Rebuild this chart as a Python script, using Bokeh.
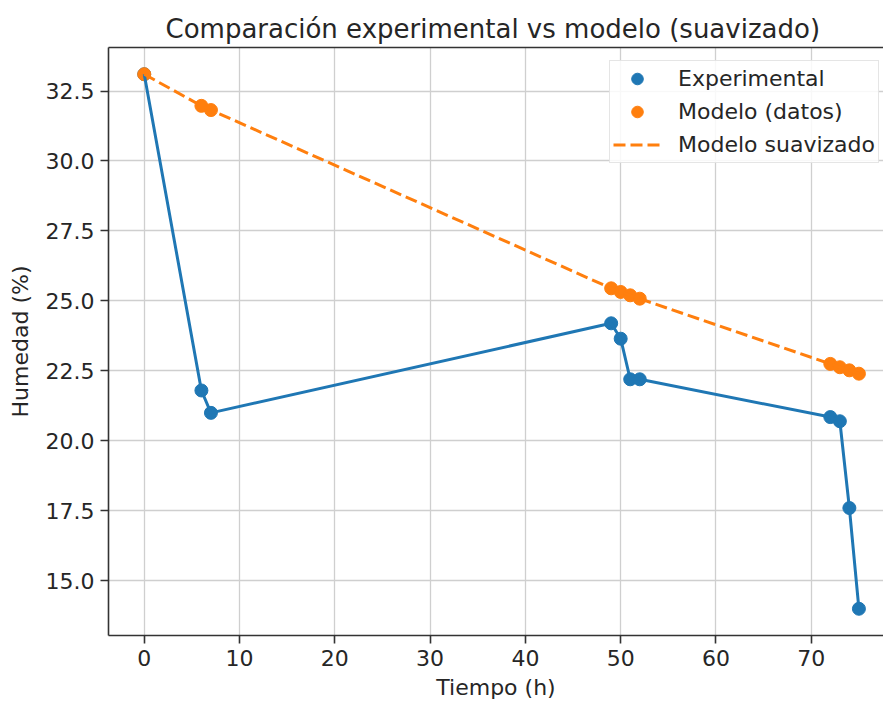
from bokeh.plotting import figure
from bokeh.models import (ColumnDataSource, Range1d, SingleIntervalTicker, FixedTicker,
                          NumeralTickFormatter, LinearAxis, Legend, LegendItem)
from bokeh.embed import file_html
from bokeh.resources import INLINE

# Measured moisture vs. model prediction over drying time
tiempo_h = [0, 6, 7, 49, 50, 51, 52, 72, 73, 74, 75]
humedad_experimental = [33.1, 21.8, 21.0, 24.2, 23.65, 22.2, 22.2, 20.85, 20.7, 17.6, 14.0]
humedad_modelo = [33.1, 31.97, 31.82, 25.45, 25.32, 25.2, 25.08, 22.75, 22.63, 22.52, 22.4]

AZUL = "#1f77b4"
NARANJA = "#ff7f0e"
TEXTO = "#262626"
FUENTE = "DejaVu Sans"

src = ColumnDataSource(dict(t=tiempo_h, exp=humedad_experimental, mod=humedad_modelo))

p = figure(width=883, height=702, output_backend="svg", toolbar_location=None,
           x_range=Range1d(-3.75, 77.58), y_range=Range1d(13.045, 34.055),
           min_border_left=108, min_border_right=0, min_border_top=47, min_border_bottom=67,
           title="Comparación experimental vs modelo (suavizado)")

p.outline_line_color = None
p.background_fill_color = "white"
p.border_fill_color = "white"

# title
p.title.text_font = FUENTE
p.title.text_font_size = "26px"
p.title.text_font_style = "normal"
p.title.text_color = TEXTO
p.title.align = "left"
p.title.offset = 57
p.title.standoff = 8

# axes
for ax in (p.xaxis[0], p.yaxis[0]):
    ax.axis_line_color = "#333333"
    ax.axis_line_width = 1.6
    ax.major_tick_line_color = "#333333"
    ax.major_tick_line_width = 1.6
    ax.major_tick_out = 8
    ax.major_tick_in = 0
    ax.minor_tick_line_color = None
    ax.major_label_text_font = FUENTE
    ax.major_label_text_font_size = "22px"
    ax.major_label_text_color = TEXTO
    ax.axis_label_text_font = FUENTE
    ax.axis_label_text_font_size = "22px"
    ax.axis_label_text_font_style = "normal"
    ax.axis_label_text_color = TEXTO
    ax.major_label_standoff = 6

p.xaxis.ticker = SingleIntervalTicker(interval=10)
p.yaxis.ticker = SingleIntervalTicker(interval=2.5)
p.yaxis.formatter = NumeralTickFormatter(format="0.0")
p.xaxis.axis_label = "Tiempo (h)"
p.yaxis.axis_label = "Humedad (%)"
p.xaxis.axis_label_standoff = 6
p.yaxis.axis_label_standoff = 10

# top spine: a bare axis with no ticks or labels
top_spine = LinearAxis(ticker=FixedTicker(ticks=[]), axis_line_color="#333333",
                       axis_line_width=1.6, major_tick_out=0, major_tick_in=0,
                       minor_tick_out=0, minor_tick_in=0, major_label_standoff=0,
                       major_label_text_font_size="0px")
p.add_layout(top_spine, "above")

# grid
p.grid.grid_line_color = "#cfcfcf"
p.grid.grid_line_width = 1.3

# data
r_exp = p.scatter("t", "exp", source=src, size=13, color=AZUL)
r_mod = p.scatter("t", "mod", source=src, size=13, color=NARANJA)
p.line("t", "exp", source=src, line_color=AZUL, line_width=3)
r_suave = p.line("t", "mod", source=src, line_color=NARANJA, line_width=3,
                 line_dash="12 5")

legend = Legend(items=[LegendItem(label="Experimental", renderers=[r_exp]),
                       LegendItem(label="Modelo (datos)", renderers=[r_mod]),
                       LegendItem(label="Modelo suavizado", renderers=[r_suave])],
                location=(501, 472))
legend.label_text_font = FUENTE
legend.label_text_font_size = "22px"
legend.label_text_color = TEXTO
legend.padding = 3
legend.spacing = 4
legend.label_height = 29
legend.glyph_height = 29
legend.glyph_width = 48
legend.label_standoff = 17
legend.border_line_color = "#cccccc"
legend.border_line_width = 1.3
legend.background_fill_alpha = 0.85
p.add_layout(legend)

open("out.html", "w").write(file_html(p, INLINE))
